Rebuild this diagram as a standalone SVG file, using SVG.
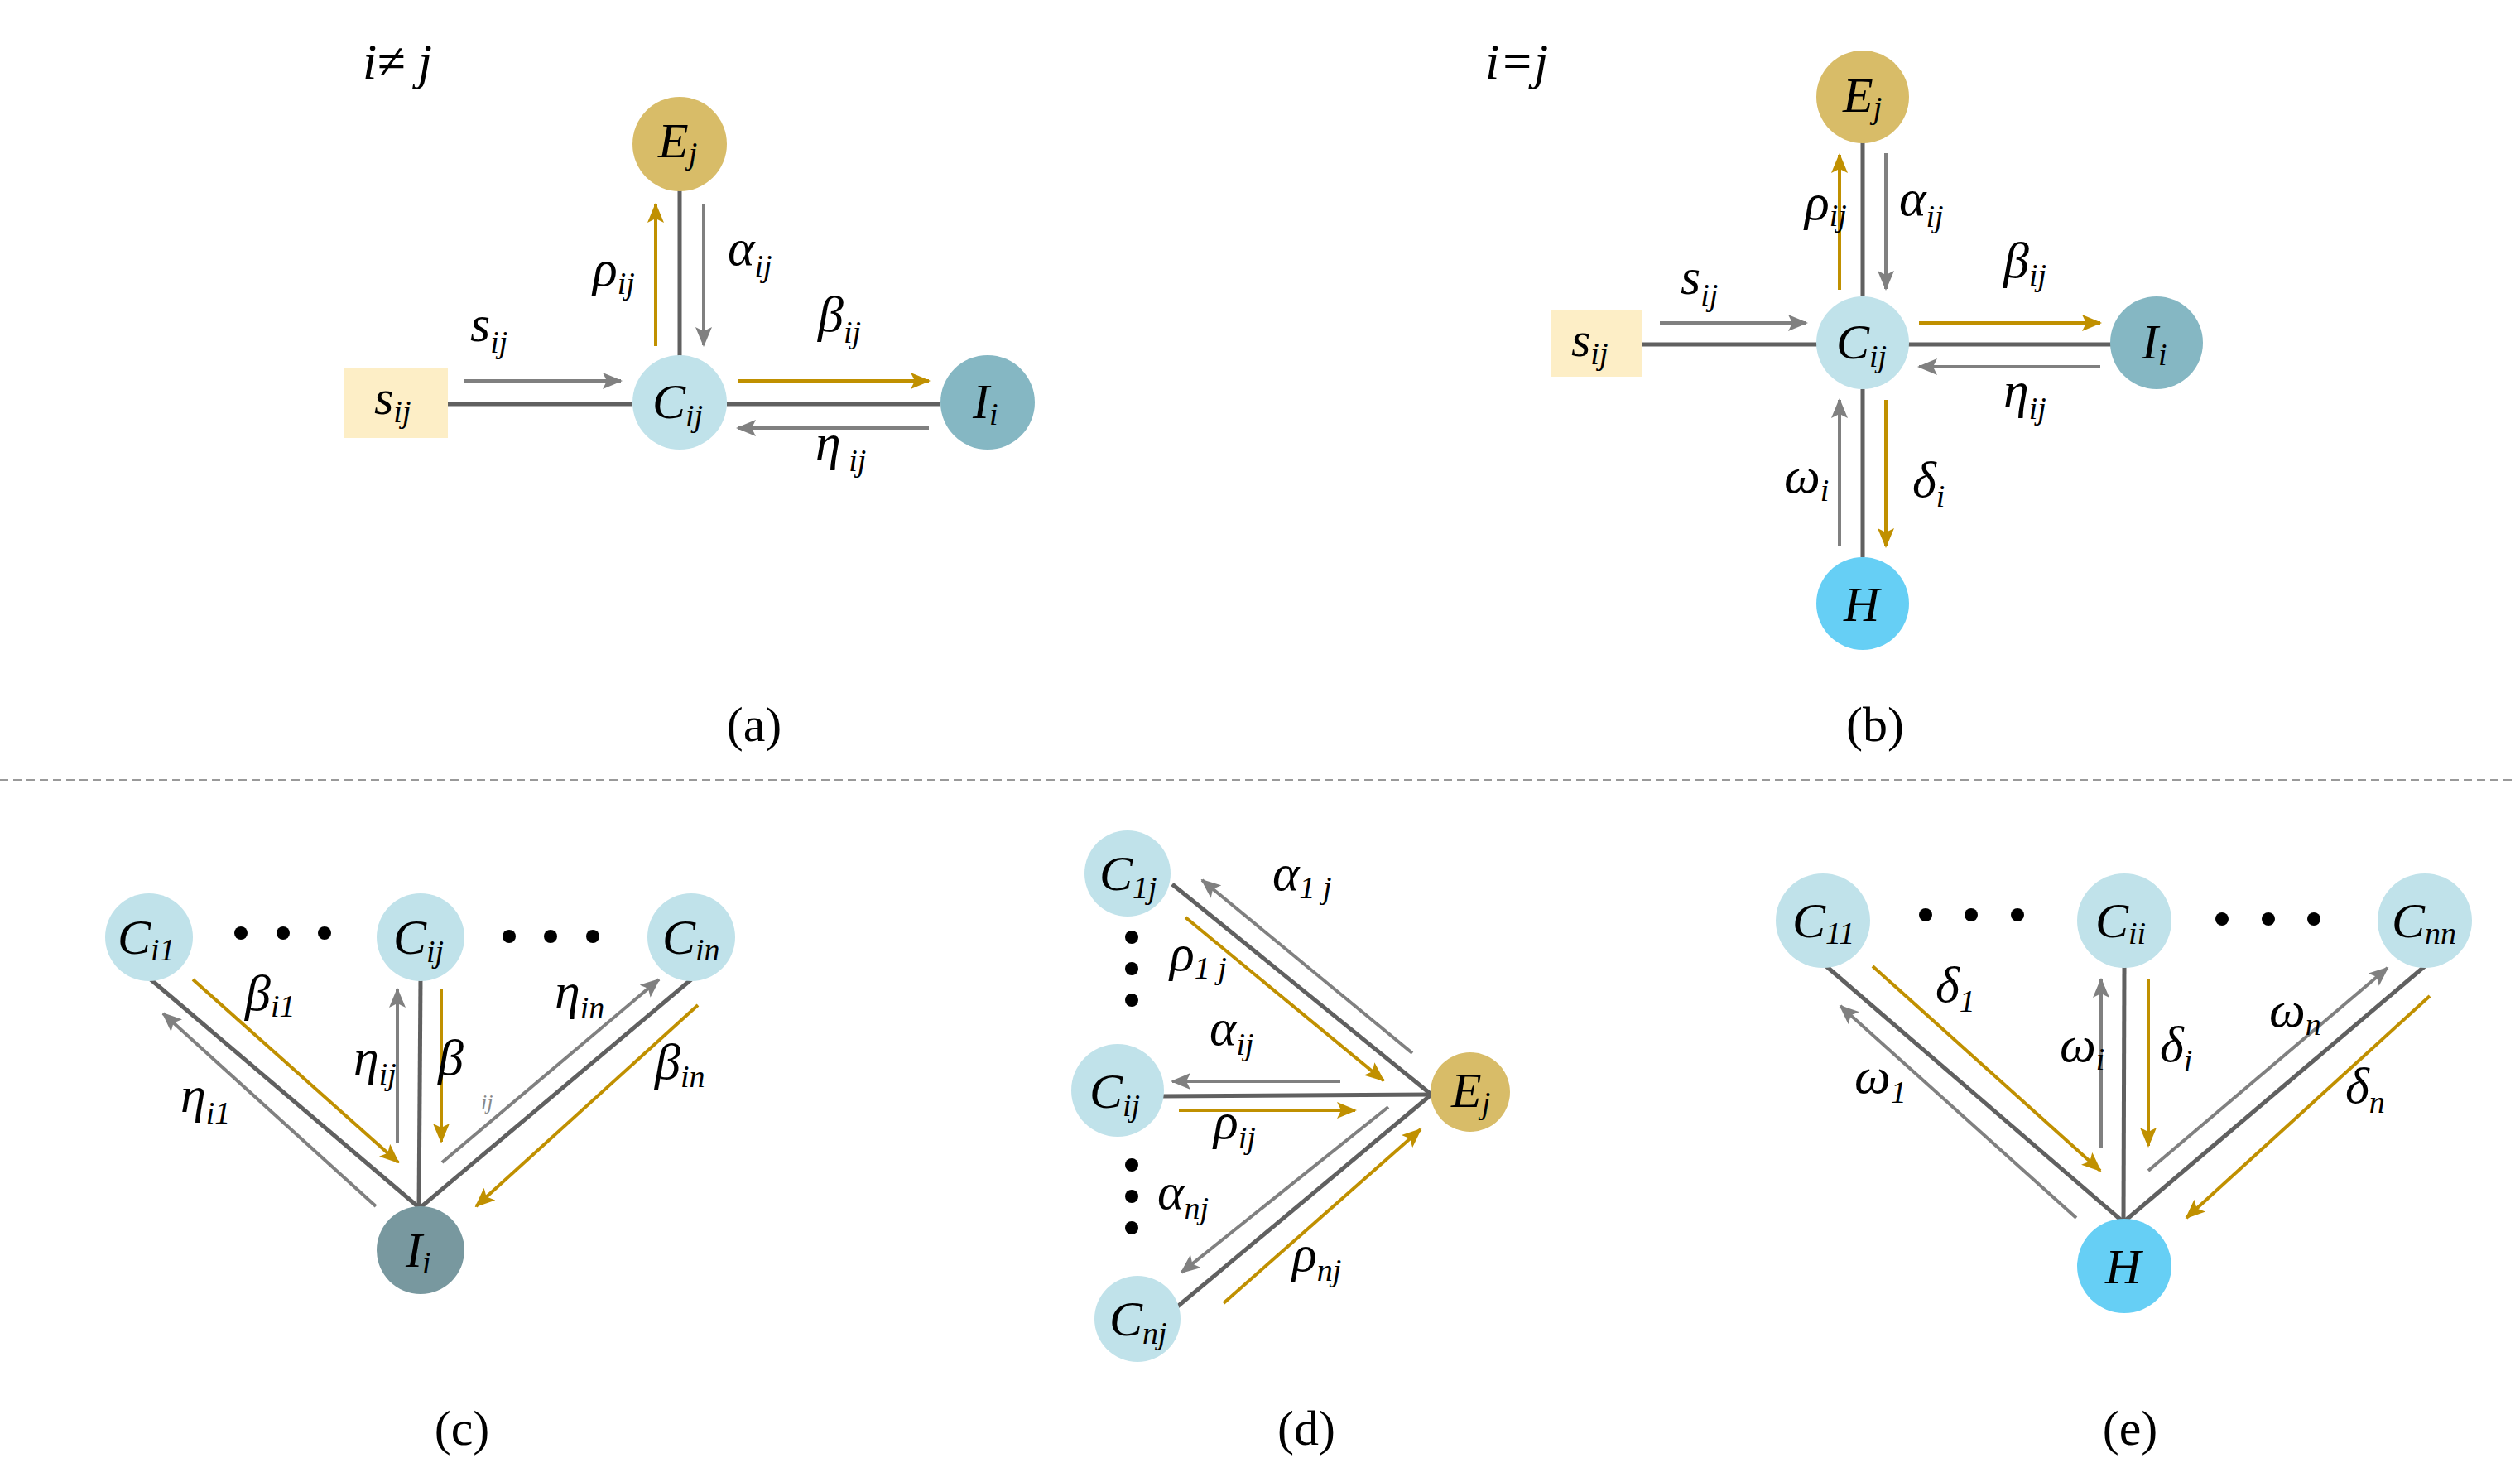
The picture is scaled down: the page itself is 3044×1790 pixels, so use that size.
<svg xmlns="http://www.w3.org/2000/svg" width="3044" height="1790" viewBox="0 0 3044 1790">
<defs>
<marker id="ag" markerUnits="userSpaceOnUse" markerWidth="24" markerHeight="20" refX="22" refY="10" orient="auto"><path d="M0,0 L24,10 L0,20 L5,10 Z" fill="#808080"/></marker>
<marker id="ao" markerUnits="userSpaceOnUse" markerWidth="24" markerHeight="20" refX="22" refY="10" orient="auto"><path d="M0,0 L24,10 L0,20 L5,10 Z" fill="#c09000"/></marker>
</defs>
<style>
.ln{stroke:#606060;stroke-width:5;fill:none}
.g{stroke:#808080;stroke-width:4;fill:none;marker-end:url(#ag)}
.o{stroke:#c09000;stroke-width:4;fill:none;marker-end:url(#ao)}
text{font-family:"Liberation Serif","Times New Roman",serif;font-style:italic;fill:#000}
.t{font-size:62px}
.n{font-size:60px}
.s{font-size:38px}
.cap{font-style:normal;font-size:60px;text-anchor:middle}
.C{fill:#c0e2ea}.E{fill:#d8bc68}.I{fill:#85b7c3}.I2{fill:#78989f}.H{fill:#66cff5}
.dot{fill:#000}
</style>
<rect width="3044" height="1790" fill="#fff"/>
<line x1="0" y1="942" x2="3034" y2="942" stroke="#999" stroke-width="2" stroke-dasharray="10,6"/>

<g id="connectors">
<!-- (a) -->
<line class="ln" x1="541" y1="488" x2="764" y2="488"/>
<line class="ln" x1="878" y1="488" x2="1136" y2="488"/>
<line class="ln" x1="821" y1="228" x2="821" y2="430"/>
<line class="g" x1="561" y1="460" x2="750" y2="460"/>
<line class="o" x1="891" y1="460" x2="1122" y2="460"/>
<line class="g" x1="1122" y1="517" x2="891" y2="517"/>
<line class="o" x1="792" y1="418" x2="792" y2="247"/>
<line class="g" x1="850" y1="246" x2="850" y2="417"/>
<!-- (b) -->
<line class="ln" x1="1983" y1="416" x2="2196" y2="416"/>
<line class="ln" x1="2304" y1="416" x2="2550" y2="416"/>
<line class="ln" x1="2250" y1="172" x2="2250" y2="358"/>
<line class="ln" x1="2250" y1="470" x2="2250" y2="673"/>
<line class="g" x1="2005" y1="390" x2="2182" y2="390"/>
<line class="o" x1="2318" y1="390" x2="2537" y2="390"/>
<line class="g" x1="2537" y1="443" x2="2318" y2="443"/>
<line class="o" x1="2222" y1="350" x2="2222" y2="187"/>
<line class="g" x1="2278" y1="185" x2="2278" y2="349"/>
<line class="g" x1="2222" y1="660" x2="2222" y2="483"/>
<line class="o" x1="2278" y1="483" x2="2278" y2="660"/>
<!-- (c) -->
<line class="ln" x1="182" y1="1183" x2="508" y2="1460"/>
<line class="ln" x1="508" y1="1182" x2="506" y2="1460"/>
<line class="ln" x1="835" y1="1183" x2="506" y2="1460"/>
<line class="o" x1="233" y1="1183" x2="481" y2="1404"/>
<line class="g" x1="454" y1="1457" x2="197" y2="1224"/>
<line class="g" x1="480" y1="1380" x2="480" y2="1195"/>
<line class="o" x1="533" y1="1195" x2="533" y2="1379"/>
<line class="g" x1="534" y1="1404" x2="796" y2="1183"/>
<line class="o" x1="843" y1="1214" x2="575" y2="1457"/>
<!-- (d) -->
<line class="ln" x1="1416" y1="1068" x2="1729" y2="1322"/>
<line class="ln" x1="1403" y1="1324" x2="1729" y2="1322"/>
<line class="ln" x1="1420" y1="1580" x2="1729" y2="1322"/>
<line class="g" x1="1706" y1="1272" x2="1452" y2="1063"/>
<line class="o" x1="1432" y1="1108" x2="1671" y2="1305"/>
<line class="g" x1="1619" y1="1306" x2="1416" y2="1306"/>
<line class="o" x1="1424" y1="1341" x2="1637" y2="1341"/>
<line class="g" x1="1677" y1="1337" x2="1427" y2="1537"/>
<line class="o" x1="1478" y1="1574" x2="1716" y2="1364"/>
<!-- (e) -->
<line class="ln" x1="2206" y1="1167" x2="2565" y2="1476"/>
<line class="ln" x1="2566" y1="1167" x2="2565" y2="1476"/>
<line class="ln" x1="2929" y1="1167" x2="2565" y2="1476"/>
<line class="o" x1="2262" y1="1167" x2="2537" y2="1414"/>
<line class="g" x1="2508" y1="1471" x2="2223" y2="1215"/>
<line class="g" x1="2538" y1="1386" x2="2538" y2="1183"/>
<line class="o" x1="2595" y1="1182" x2="2595" y2="1384"/>
<line class="g" x1="2595" y1="1414" x2="2884" y2="1169"/>
<line class="o" x1="2935" y1="1203" x2="2641" y2="1471"/>
</g>

<!-- panel (a) -->
<g id="a-Ej"><circle class="E" cx="821" cy="174" r="57"/><text class="n" x="795" y="190">E<tspan class="s" dy="8">j</tspan></text></g>
<g id="a-Cij"><circle class="C" cx="821" cy="486" r="57"/><text class="n" x="788" y="505">C<tspan class="s" dy="10">ij</tspan></text></g>
<g id="a-Ii"><circle class="I" cx="1193" cy="486" r="57"/><text class="n" x="1175" y="505">I<tspan class="s" dy="8">i</tspan></text></g>
<g id="a-sij"><rect x="415" y="444" width="126" height="85" fill="#fdeec6"/><text class="n" x="452" y="500">s<tspan class="s" dy="10">ij</tspan></text></g>
<g id="a-labels">
<text class="t" x="438" y="95">i≠ j</text>
<text class="t" x="568" y="412">s<tspan class="s" dy="14">ij</tspan></text>
<text class="t" x="716" y="345">ρ<tspan class="s" dy="10">ij</tspan></text>
<text class="t" x="879" y="320">α<tspan class="s" dy="14">ij</tspan></text>
<text class="t" x="988" y="400">β<tspan class="s" dy="14">ij</tspan></text>
<text class="t" x="985" y="555">η<tspan class="s" dy="14"> ij</tspan></text>
<text class="cap" x="911" y="895">(a)</text>
</g>

<!-- panel (b) -->
<g id="b-Ej"><circle class="E" cx="2250" cy="117" r="56"/><text class="n" x="2226" y="135">E<tspan class="s" dy="8">j</tspan></text></g>
<g id="b-Cij"><circle class="C" cx="2250" cy="414" r="56"/><text class="n" x="2218" y="433">C<tspan class="s" dy="10">ij</tspan></text></g>
<g id="b-Ii"><circle class="I" cx="2605" cy="414" r="56"/><text class="n" x="2587" y="433">I<tspan class="s" dy="8">i</tspan></text></g>
<g id="b-H"><circle class="H" cx="2250" cy="729" r="56"/><text class="n" x="2227" y="750">H</text></g>
<g id="b-sij"><rect x="1873" y="375" width="110" height="80" fill="#fdeec6"/><text class="n" x="1898" y="430">s<tspan class="s" dy="10">ij</tspan></text></g>
<g id="b-labels">
<text class="t" x="1794" y="95">i=j</text>
<text class="t" x="2030" y="355">s<tspan class="s" dy="14">ij</tspan></text>
<text class="t" x="2180" y="265">ρ<tspan class="s" dy="8">ij</tspan></text>
<text class="t" x="2294" y="260">α<tspan class="s" dy="14">ij</tspan></text>
<text class="t" x="2420" y="335">β<tspan class="s" dy="10">ij</tspan></text>
<text class="t" x="2420" y="492">η<tspan class="s" dy="14">ij</tspan></text>
<text class="t" x="2155" y="595">ω<tspan class="s" dy="10">i</tspan></text>
<text class="t" x="2310" y="600">δ<tspan class="s" dy="12">i</tspan></text>
<text class="cap" x="2265" y="895">(b)</text>
</g>

<!-- panel (c) -->
<g id="c-Ci1"><circle class="C" cx="180" cy="1132" r="53"/><text class="n" x="142" y="1152">C<tspan class="s" dy="8">i1</tspan></text></g>
<g id="c-Cij"><circle class="C" cx="508" cy="1132" r="53"/><text class="n" x="475" y="1152">C<tspan class="s" dy="10">ij</tspan></text></g>
<g id="c-Cin"><circle class="C" cx="835" cy="1132" r="53"/><text class="n" x="800" y="1152">C<tspan class="s" dy="8">in</tspan></text></g>
<g id="c-Ii"><circle class="I2" cx="508" cy="1510" r="53"/><text class="n" x="490" y="1530">I<tspan class="s" dy="8">i</tspan></text></g>
<g id="c-dots" class="dot">
<circle cx="291" cy="1127" r="8"/><circle cx="342" cy="1127" r="8"/><circle cx="392" cy="1127" r="8"/>
<circle cx="615" cy="1131" r="8"/><circle cx="665" cy="1131" r="8"/><circle cx="716" cy="1131" r="8"/>
</g>
<g id="c-labels">
<text class="t" x="296" y="1220">β<tspan class="s" dy="8">i1</tspan></text>
<text class="t" x="218" y="1343">η<tspan class="s" dy="14">i1</tspan></text>
<text class="t" x="427" y="1298">η<tspan class="s" dy="12">ij</tspan></text>
<text class="t" x="529" y="1298">β</text>
<text class="s" x="581" y="1340" style="font-size:26px;fill:#888">ij</text>
<text class="t" x="670" y="1218">η<tspan class="s" dy="12">in</tspan></text>
<text class="t" x="791" y="1303">β<tspan class="s" dy="10">in</tspan></text>
<text class="cap" x="558" y="1745">(c)</text>
</g>

<!-- panel (d) -->
<g id="d-C1j"><circle class="C" cx="1362" cy="1055" r="52"/><text class="n" x="1328" y="1075">C<tspan class="s" dy="10">1j</tspan></text></g>
<g id="d-Cij"><circle class="C" cx="1350" cy="1317" r="56"/><text class="n" x="1316" y="1338">C<tspan class="s" dy="10">ij</tspan></text></g>
<g id="d-Cnj"><circle class="C" cx="1374" cy="1593" r="52"/><text class="n" x="1340" y="1613">C<tspan class="s" dy="10">nj</tspan></text></g>
<g id="d-Ej"><circle class="E" cx="1776" cy="1319" r="48"/><text class="n" x="1753" y="1337">E<tspan class="s" dy="8">j</tspan></text></g>
<g id="d-dots" class="dot">
<circle cx="1367" cy="1132" r="8"/><circle cx="1367" cy="1170" r="8"/><circle cx="1367" cy="1208" r="8"/>
<circle cx="1367" cy="1407" r="8"/><circle cx="1367" cy="1445" r="8"/><circle cx="1367" cy="1483" r="8"/>
</g>
<g id="d-labels">
<text class="t" x="1537" y="1075">α<tspan class="s" dy="10">1 j</tspan></text>
<text class="t" x="1413" y="1172">ρ<tspan class="s" dy="10">1 j</tspan></text>
<text class="t" x="1461" y="1262">α<tspan class="s" dy="12">ij</tspan></text>
<text class="t" x="1466" y="1375">ρ<tspan class="s" dy="12">ij</tspan></text>
<text class="t" x="1398" y="1460">α<tspan class="s" dy="12">nj</tspan></text>
<text class="t" x="1561" y="1535">ρ<tspan class="s" dy="12">nj</tspan></text>
<text class="cap" x="1578" y="1745">(d)</text>
</g>

<!-- panel (e) -->
<g id="e-C11"><circle class="C" cx="2202" cy="1112" r="57"/><text class="n" x="2165" y="1132">C<tspan class="s" dy="8">11</tspan></text></g>
<g id="e-Cii"><circle class="C" cx="2566" cy="1112" r="57"/><text class="n" x="2531" y="1132">C<tspan class="s" dy="8">ii</tspan></text></g>
<g id="e-Cnn"><circle class="C" cx="2929" cy="1112" r="57"/><text class="n" x="2889" y="1132">C<tspan class="s" dy="8">nn</tspan></text></g>
<g id="e-H"><circle class="H" cx="2566" cy="1529" r="57"/><text class="n" x="2543" y="1550">H</text></g>
<g id="e-dots" class="dot">
<circle cx="2326" cy="1105" r="8"/><circle cx="2381" cy="1105" r="8"/><circle cx="2437" cy="1105" r="8"/>
<circle cx="2684" cy="1110" r="8"/><circle cx="2740" cy="1110" r="8"/><circle cx="2795" cy="1110" r="8"/>
</g>
<g id="e-labels">
<text class="t" x="2338" y="1210">δ<tspan class="s" dy="12">1</tspan></text>
<text class="t" x="2240" y="1320">ω<tspan class="s" dy="12">1</tspan></text>
<text class="t" x="2488" y="1282">ω<tspan class="s" dy="10">i</tspan></text>
<text class="t" x="2609" y="1282">δ<tspan class="s" dy="12">i</tspan></text>
<text class="t" x="2741" y="1240">ω<tspan class="s" dy="10">n</tspan></text>
<text class="t" x="2833" y="1332">δ<tspan class="s" dy="12">n</tspan></text>
<text class="cap" x="2573" y="1745">(e)</text>
</g>
</svg>
